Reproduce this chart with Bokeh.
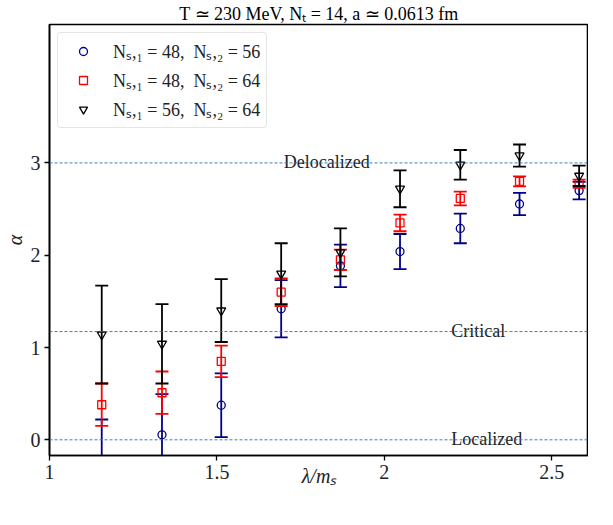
import numpy as np
from bokeh.plotting import figure
from bokeh.models import ColumnDataSource, Range1d, FixedTicker, Span, Legend, LegendItem
from bokeh.core.properties import value
from bokeh.embed import file_html
from bokeh.resources import INLINE

# ---- data ----
lam = [1.156, 1.336, 1.513, 1.692, 1.869, 2.047, 2.227, 2.404, 2.582]

alpha_48_56 = [-0.35, 0.054, 0.375, 1.42, 1.885, 2.04, 2.29, 2.555, 2.70]
err_48_56 = [0.57, 0.44, 0.345, 0.31, 0.23, 0.19, 0.16, 0.12, 0.095]

alpha_48_64 = [0.38, 0.51, 0.85, 1.60, 1.95, 2.35, 2.615, 2.80, 2.775]
err_48_64 = [0.23, 0.23, 0.17, 0.15, 0.11, 0.09, 0.075, 0.055, 0.045]

alpha_56_64 = [1.14, 1.04, 1.40, 1.80, 2.03, 2.72, 2.98, 3.08, 2.86]
err_56_64 = [0.53, 0.43, 0.34, 0.33, 0.26, 0.20, 0.16, 0.12, 0.11]

series_labels = ["Nₛ,₁ = 48,  Nₛ,₂ = 56", "Nₛ,₁ = 48,  Nₛ,₂ = 64", "Nₛ,₁ = 56,  Nₛ,₂ = 64"]

ref_levels = [0.0, 1.173, 3.0]
ref_labels = ["Localized", "Critical", "Delocalized"]
ref_label_x = [2.2, 2.2, 1.70]

x_ticks = [1, 1.5, 2, 2.5]
x_tick_labels = ["1", "1.5", "2", "2.5"]
y_ticks = [0, 1, 2, 3]
y_tick_labels = ["0", "1", "2", "3"]

title_text = "T ≃ 230 MeV, Nₜ = 14, a ≃ 0.0613 fm"
x_label = "λ/mₛ"
y_label = "α"

SERIF = "Liberation Serif"

p = figure(width=588, height=490, output_backend="svg", toolbar_location=None,
           x_range=Range1d(1.0, 2.61), y_range=Range1d(-0.17, 4.5),
           min_border_left=40, min_border_right=0, min_border_top=24, min_border_bottom=35)

p.title.text = title_text
p.title.align = "center"
p.title.text_font = SERIF
p.title.text_font_size = "18px"
p.title.text_font_style = "normal"
p.title.text_color = "black"
p.title.standoff = 2
p.title.offset = 0

p.xgrid.visible = False
p.ygrid.visible = False
p.outline_line_color = "black"
p.outline_line_width = 1.6
p.background_fill_color = "white"
p.border_fill_color = "white"

for ax in (p.xaxis[0], p.yaxis[0]):
    ax.axis_line_color = "black"
    ax.axis_line_width = 1.6
    ax.major_tick_line_color = "black"
    ax.major_tick_line_width = 1.3
    ax.major_tick_out = 5
    ax.major_tick_in = 0
    ax.minor_tick_line_color = None
    ax.major_label_text_font = SERIF
    ax.major_label_text_font_size = "20px"
    ax.major_label_text_color = "#222222"
    ax.axis_label_text_font = SERIF
    ax.axis_label_text_font_size = "20px"
    ax.axis_label_text_font_style = "italic"
    ax.axis_label_text_color = "#222222"

p.xaxis[0].ticker = FixedTicker(ticks=x_ticks)
p.xaxis[0].major_label_overrides = {t: l for t, l in zip(x_ticks, x_tick_labels)}
p.yaxis[0].ticker = FixedTicker(ticks=y_ticks)
p.yaxis[0].major_label_overrides = {t: l for t, l in zip(y_ticks, y_tick_labels)}
p.xaxis[0].axis_label = x_label
p.yaxis[0].axis_label = y_label
p.xaxis[0].major_label_standoff = 4
p.xaxis[0].axis_label_standoff = -17
p.yaxis[0].major_label_standoff = 4
p.yaxis[0].axis_label_standoff = 2

# reference lines
for lvl in ref_levels:
    p.add_layout(Span(location=lvl, dimension="width", line_color="#1f77b4",
                      line_dash="3 2", line_width=0.9))
ref_src = ColumnDataSource(dict(x=ref_label_x, y=ref_levels, t=ref_labels))
p.text(x="x", y="y", text="t", source=ref_src, text_font=value(SERIF),
       text_font_size="18px", text_color="#222222", text_baseline="alphabetic",
       text_align="left", y_offset=-1)

series = [
    (alpha_48_56, err_48_56, "#00008b", "circle"),
    (alpha_48_64, err_48_64, "#ff0000", "square"),
    (alpha_56_64, err_56_64, "black", "inverted_triangle"),
]
items = []
for (ys, es, col, mk), lab in zip(series, series_labels):
    ys = np.array(ys)
    es = np.array(es)
    src = ColumnDataSource(dict(x=lam, y=ys, lo=ys - es, hi=ys + es))
    p.segment(x0="x", y0="lo", x1="x", y1="hi", source=src, line_color=col, line_width=1.8)
    p.scatter(x="x", y="lo", source=src, marker="dash", size=13, line_color=col, line_width=1.8)
    p.scatter(x="x", y="hi", source=src, marker="dash", size=13, line_color=col, line_width=1.8)
    msize = 8 if mk != "inverted_triangle" else 9
    mr = p.scatter(x="x", y="y", source=src, marker=mk, size=msize, fill_color=None,
                   line_color=col, line_width=1.3)
    items.append(LegendItem(label=lab, renderers=[mr]))

legend = Legend(items=items, location="top_left")
legend.label_text_font = SERIF
legend.label_text_font_size = "18px"
legend.label_text_color = "#222222"
legend.border_line_color = "#cccccc"
legend.border_line_width = 1.2
legend.border_radius = 4
legend.background_fill_alpha = 0.85
legend.glyph_width = 38
legend.glyph_height = 20
legend.label_standoff = 11
legend.label_height = 20
legend.spacing = 5
legend.padding = 6
legend.margin = 8
p.add_layout(legend)

open("out.html", "w").write(file_html(p, INLINE))
